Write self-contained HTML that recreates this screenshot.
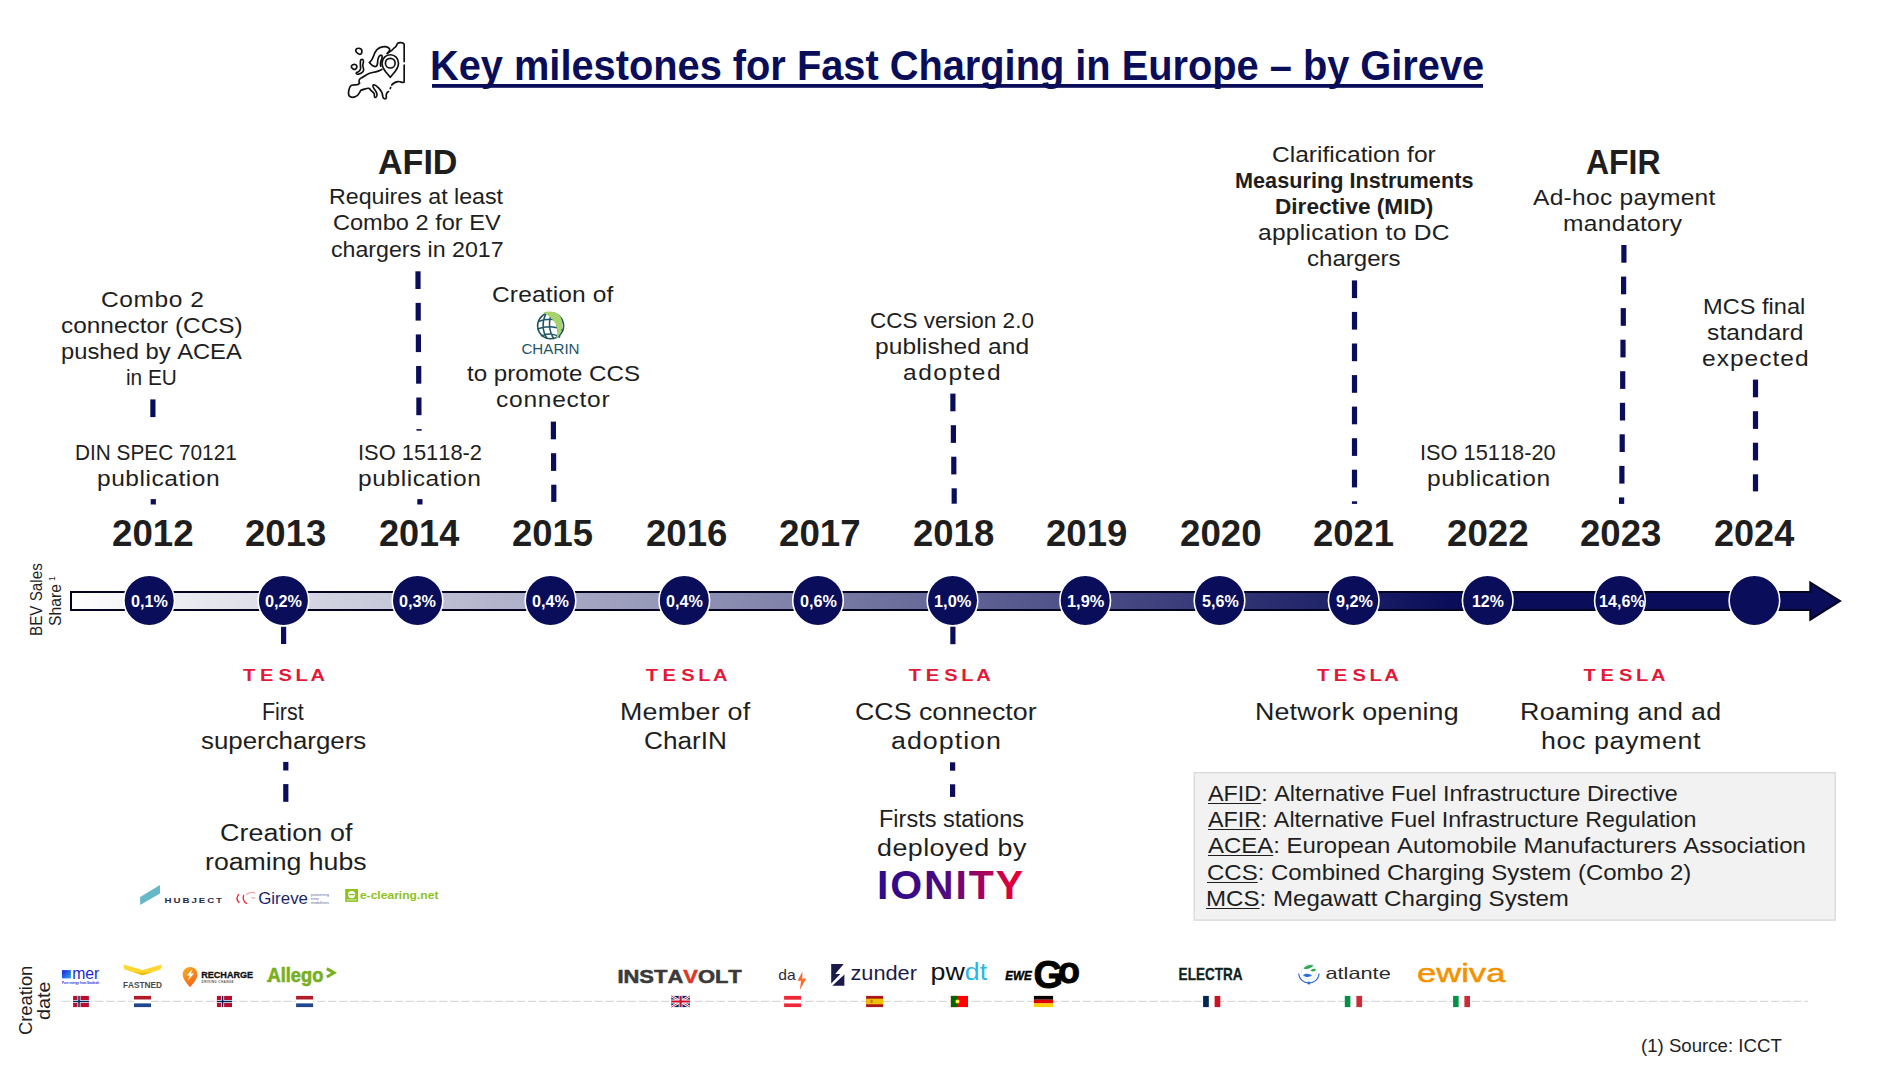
<!DOCTYPE html>
<html lang="en"><head><meta charset="utf-8"><title>Key milestones for Fast Charging in Europe – by Gireve</title>
<style>
html,body{margin:0;padding:0;background:#fff}
#p{position:relative;width:1901px;height:1065px;overflow:hidden;background:#fff;font-family:"Liberation Sans",sans-serif;font-kerning:none;color:#1e1e1e}
.t{position:absolute;white-space:nowrap;line-height:1;transform-origin:0 0}
.v{position:absolute;width:0;height:0;transform:rotate(-90deg);transform-origin:0 0}
#g{position:absolute;left:0;top:0}
u{text-decoration-thickness:1.3px;text-underline-offset:1.6px}
svg text{font-family:"Liberation Sans",sans-serif;font-kerning:none}
</style></head><body><div id="p">
<svg id="g" width="1901" height="1065" viewBox="0 0 1901 1065">
<defs>
<linearGradient id="bg" gradientUnits="userSpaceOnUse" x1="70" y1="0" x2="1450" y2="0"><stop offset="0" stop-color="#ffffff"/><stop offset="1" stop-color="#0a0e5a"/></linearGradient>
<linearGradient id="ion" gradientUnits="userSpaceOnUse" x1="879" y1="0" x2="1023" y2="0"><stop offset="0" stop-color="#2a0a8c"/><stop offset="0.45" stop-color="#4b0a82"/><stop offset="0.75" stop-color="#b0005a"/><stop offset="1" stop-color="#f0002a"/></linearGradient>
</defs>
<path d="M71,592.1H1810.3V582.6L1840.0,600.9L1810.3,619.6V610.0H71Z" fill="url(#bg)" stroke="#03041f" stroke-width="2" stroke-linejoin="miter"/>
<circle cx="149.2" cy="600.4" r="25.3" fill="#0a0e5a" stroke="#fff" stroke-width="1.6"/>
<circle cx="283.4" cy="600.4" r="25.3" fill="#0a0e5a" stroke="#fff" stroke-width="1.6"/>
<circle cx="417.5" cy="600.4" r="25.3" fill="#0a0e5a" stroke="#fff" stroke-width="1.6"/>
<circle cx="550.5" cy="600.4" r="25.3" fill="#0a0e5a" stroke="#fff" stroke-width="1.6"/>
<circle cx="684.3" cy="600.4" r="25.3" fill="#0a0e5a" stroke="#fff" stroke-width="1.6"/>
<circle cx="818.0" cy="600.4" r="25.3" fill="#0a0e5a" stroke="#fff" stroke-width="1.6"/>
<circle cx="952.5" cy="600.4" r="25.3" fill="#0a0e5a" stroke="#fff" stroke-width="1.6"/>
<circle cx="1085.2" cy="600.4" r="25.3" fill="#0a0e5a" stroke="#fff" stroke-width="1.6"/>
<circle cx="1219.5" cy="600.4" r="25.3" fill="#0a0e5a" stroke="#fff" stroke-width="1.6"/>
<circle cx="1353.7" cy="600.4" r="25.3" fill="#0a0e5a" stroke="#fff" stroke-width="1.6"/>
<circle cx="1487.7" cy="600.4" r="25.3" fill="#0a0e5a" stroke="#fff" stroke-width="1.6"/>
<circle cx="1619.9" cy="600.4" r="25.3" fill="#0a0e5a" stroke="#fff" stroke-width="1.6"/>
<circle cx="1754.4" cy="600.4" r="25.3" fill="#0a0e5a" stroke="#fff" stroke-width="1.6"/>
<rect x="150.3" y="399.4" width="5.2" height="17.7" fill="#0a0e5a"/>
<rect x="150.7" y="499.1" width="5.2" height="5.4" fill="#0a0e5a"/>
<rect x="415.4" y="271.3" width="5.2" height="17.7" fill="#0a0e5a"/>
<rect x="415.6" y="302.9" width="5.2" height="17.7" fill="#0a0e5a"/>
<rect x="415.8" y="334.4" width="5.2" height="17.7" fill="#0a0e5a"/>
<rect x="416.1" y="366.0" width="5.2" height="17.7" fill="#0a0e5a"/>
<rect x="416.3" y="397.5" width="5.2" height="17.7" fill="#0a0e5a"/>
<rect x="416.5" y="429.1" width="5.2" height="1.6" fill="#0a0e5a"/>
<rect x="417.3" y="499.1" width="5.2" height="5.4" fill="#0a0e5a"/>
<rect x="550.8" y="421.6" width="5.2" height="17.7" fill="#0a0e5a"/>
<rect x="551.0" y="453.2" width="5.2" height="17.7" fill="#0a0e5a"/>
<rect x="551.2" y="484.7" width="5.2" height="17.2" fill="#0a0e5a"/>
<rect x="950.3" y="393.6" width="5.2" height="17.7" fill="#0a0e5a"/>
<rect x="950.8" y="425.2" width="5.2" height="17.7" fill="#0a0e5a"/>
<rect x="951.2" y="456.7" width="5.2" height="17.7" fill="#0a0e5a"/>
<rect x="951.6" y="488.3" width="5.2" height="15.4" fill="#0a0e5a"/>
<rect x="1351.9" y="280.4" width="5.2" height="17.7" fill="#0a0e5a"/>
<rect x="1351.9" y="311.9" width="5.2" height="17.7" fill="#0a0e5a"/>
<rect x="1351.9" y="343.5" width="5.2" height="17.7" fill="#0a0e5a"/>
<rect x="1351.9" y="375.1" width="5.2" height="17.7" fill="#0a0e5a"/>
<rect x="1351.9" y="406.6" width="5.2" height="17.7" fill="#0a0e5a"/>
<rect x="1351.9" y="438.2" width="5.2" height="17.7" fill="#0a0e5a"/>
<rect x="1351.9" y="469.7" width="5.2" height="17.7" fill="#0a0e5a"/>
<rect x="1351.9" y="501.3" width="5.2" height="2.6" fill="#0a0e5a"/>
<rect x="1621.3" y="245.0" width="5.2" height="17.7" fill="#0a0e5a"/>
<rect x="1621.0" y="276.6" width="5.2" height="17.7" fill="#0a0e5a"/>
<rect x="1620.7" y="308.1" width="5.2" height="17.7" fill="#0a0e5a"/>
<rect x="1620.4" y="339.7" width="5.2" height="17.7" fill="#0a0e5a"/>
<rect x="1620.1" y="371.2" width="5.2" height="17.7" fill="#0a0e5a"/>
<rect x="1619.9" y="402.8" width="5.2" height="17.7" fill="#0a0e5a"/>
<rect x="1619.6" y="434.3" width="5.2" height="17.7" fill="#0a0e5a"/>
<rect x="1619.3" y="465.9" width="5.2" height="17.7" fill="#0a0e5a"/>
<rect x="1619.0" y="497.4" width="5.2" height="6.5" fill="#0a0e5a"/>
<rect x="1752.9" y="379.6" width="5.2" height="17.7" fill="#0a0e5a"/>
<rect x="1752.9" y="411.2" width="5.2" height="17.7" fill="#0a0e5a"/>
<rect x="1752.9" y="442.7" width="5.2" height="17.7" fill="#0a0e5a"/>
<rect x="1752.9" y="474.3" width="5.2" height="17.1" fill="#0a0e5a"/>
<rect x="281.0" y="626.8" width="5.2" height="17.2" fill="#0a0e5a"/>
<rect x="950.3" y="626.7" width="5.2" height="17.5" fill="#0a0e5a"/>
<rect x="283.2" y="761.9" width="5.2" height="8.6" fill="#0a0e5a"/>
<rect x="283.2" y="784.1" width="5.2" height="17.7" fill="#0a0e5a"/>
<rect x="950.0" y="762.3" width="5.2" height="8.4" fill="#0a0e5a"/>
<rect x="950.0" y="784.3" width="5.2" height="12.6" fill="#0a0e5a"/>
<rect x="1194.2" y="772.7" width="641" height="147.4" fill="#f2f2f2" stroke="#dcdcdc" stroke-width="1.5"/>
<line x1="61.7" y1="1001.4" x2="1808" y2="1001.4" stroke="#d9d9d9" stroke-width="1.3" stroke-dasharray="8.3 2.8"/>
<rect x="432" y="84" width="1051" height="3.8" fill="#0a0e5a"/>
<!-- Europe map icon -->
<g transform="translate(320,20) scale(0.10521)" fill="none" stroke="#111" stroke-width="16" stroke-linecap="round" stroke-linejoin="round">
<path d="M340,285C345,262 392,262 398,290C402,322 384,332 368,322C350,312 336,306 340,285Z"/>
<path d="M298,440C305,418 346,414 351,440C353,466 330,476 315,466C302,458 295,450 298,440Z"/>
<path d="M386,380C396,370 416,372 413,396C409,420 401,432 411,452C426,482 402,510 366,515C350,517 340,510 346,500C366,494 386,480 386,456C386,430 380,420 386,380Z"/>
<path d="M470,405C490,390 500,372 510,340C522,300 542,264 592,255C622,250 652,256 662,276C667,292 652,300 640,318"/>
<path d="M470,405C485,425 505,445 528,442C548,438 546,420 548,396C550,368 556,346 574,336C592,330 596,350 586,372C576,396 570,420 578,440"/>
<path d="M640,318C660,300 690,290 702,268C716,258 728,250 735,225C745,212 790,212 800,230L800,395"/>
<path d="M800,428L800,590C782,604 770,580 740,585C712,590 692,600 682,618"/>
<path d="M672,640L668,652"/>
<path d="M652,680C632,690 626,712 631,736C626,756 601,751 598,731C595,700 581,670 561,650C546,635 526,612 508,616C494,626 510,650 526,671C541,691 551,722 531,736C516,741 516,720 516,701C501,681 481,671 470,651C455,640 421,660 391,666C371,690 371,721 331,731C301,741 268,731 271,691C274,661 279,630 301,620C331,610 361,626 376,601C366,581 371,561 391,551C411,546 431,521 471,506C511,496 556,490 588,470"/>
<path d="M668,545C640,505 590,470 590,410C590,362 626,330 668,330C712,330 746,362 746,410C746,470 696,505 668,545Z"/>
<circle cx="668" cy="410" r="46"/>
</g>
<!-- CharIN -->
<g>
<circle cx="550.6" cy="325.8" r="13" fill="#fff" stroke="#1f5566" stroke-width="1.6"/>
<path d="M538.5,321.5C546,318.5 556,318.5 562.5,322M537.8,329C546,325.5 556,326 563,330.5M541,336C547,333 555,333.5 560,337.5M546,313.5C542,321 542,331 547,338.5M552,312.8C548,321 549,332 554,338.8M558,314.5C556,322 557,331 560,336.5" fill="none" stroke="#1f5566" stroke-width="1.5"/>
<path d="M543,312.5C550,310.5 557,312 560,316C564,323 563,332 556,339.5C559,331 558,320 543,312.5Z" fill="#a6d46a"/>
<text x="521.4" y="354.3" font-size="14.6" fill="#1f5566" textLength="58.2" lengthAdjust="spacingAndGlyphs">CHARIN</text>
</g>
<!-- TESLA wordmarks -->
<g fill="#e31937" font-size="16.2" font-weight="700">
<text transform="translate(243.5,681.0) scale(1.24,1)" x="-0.34 13.33 28.30 42.04 54.03">TESLA</text>
<text transform="translate(646.1,681.0) scale(1.24,1)" x="-0.34 13.33 28.30 42.04 54.03">TESLA</text>
<text transform="translate(909.2,681.0) scale(1.24,1)" x="-0.34 13.33 28.30 42.04 54.03">TESLA</text>
<text transform="translate(1317.3,681.0) scale(1.24,1)" x="-0.34 13.33 28.30 42.04 54.03">TESLA</text>
<text transform="translate(1584.0,681.0) scale(1.24,1)" x="-0.34 13.33 28.30 42.04 54.03">TESLA</text>
</g>
<!-- Hubject -->
<path d="M140.1,896.9L160,885.1V893.5L140.1,905Z" fill="#66b8c8"/>
<text x="164.6" y="902.8" font-size="8" font-weight="700" letter-spacing="1.6" fill="#2a2a45" textLength="59.4" lengthAdjust="spacingAndGlyphs">HUBJECT</text>
<!-- Gireve -->
<g fill="none" stroke-linecap="round">
<path d="M238.6,894.6C236.6,897 236.8,900.2 239,902.4" stroke="#e8333a" stroke-width="1.4"/>
<path d="M243.6,895.5C242.6,899 244,902 246.6,903.4" stroke="#e8333a" stroke-width="1.4"/>
<path d="M246.5,894.6C248.5,892.6 251.5,892 254.6,892.8" stroke="#f6a9ac" stroke-width="1.4"/>
<path d="M251.6,897.8H255" stroke="#f6a9ac" stroke-width="1.2"/>
</g>
<text x="258.2" y="904.1" font-size="16" fill="#1a1f6e" textLength="49.8" lengthAdjust="spacingAndGlyphs">Gireve</text>
<g font-size="3.6" fill="#6a6fa8"><text x="311" y="896.3" textLength="18" lengthAdjust="spacingAndGlyphs">powering</text><text x="311" y="900.1" textLength="8" lengthAdjust="spacingAndGlyphs">new</text><text x="311" y="903.9" textLength="18" lengthAdjust="spacingAndGlyphs">mobilities</text></g>
<!-- e-clearing.net -->
<rect x="345.2" y="889" width="12.9" height="12.9" fill="#8dc21f"/>
<circle cx="351.6" cy="894.6" r="3.6" fill="#fff"/><path d="M348.6,894.6H354.6" stroke="#8dc21f" stroke-width="1.3"/><rect x="346.5" y="899.2" width="10.3" height="1.4" fill="#c6e08f"/>
<text x="359.9" y="898.6" font-size="11.4" font-weight="700" fill="#8dc21f" textLength="78.6" lengthAdjust="spacingAndGlyphs">e-clearing.net</text>
<!-- IONITY -->
<text x="877" y="899.0" font-size="41" font-weight="700" fill="url(#ion)" textLength="146" lengthAdjust="spacing">IONITY</text>
<!-- mer -->
<defs><linearGradient id="merg" x1="0" y1="0" x2="1" y2="1"><stop offset="0" stop-color="#1a22d6"/><stop offset="1" stop-color="#2ea8ee"/></linearGradient>
<linearGradient id="rchg" x1="0" y1="0" x2="0.6" y2="1"><stop offset="0" stop-color="#f9b21c"/><stop offset="1" stop-color="#f2661b"/></linearGradient></defs>
<rect x="62" y="970.1" width="8.9" height="8.3" fill="url(#merg)"/>
<text x="72.2" y="978.6" font-size="16.5" fill="#1e28d2" textLength="27.2" lengthAdjust="spacingAndGlyphs">mer</text>
<text x="62" y="983.9" font-size="3.5" font-weight="700" fill="#1e28d2" textLength="37" lengthAdjust="spacingAndGlyphs">Pure energy from Statkraft</text>
<!-- Fastned -->
<path d="M123.4,964.6L142.7,970.1L161.7,964.6L160.6,969.4L142.7,975.3L124.5,969.4Z" fill="#ffd530"/>
<path d="M133,972.1L142.7,975.3L152.4,972.1L142.7,973Z" fill="#f0b90a"/>
<text x="123" y="988.1" font-size="9" font-weight="700" fill="#4a4a4a" textLength="39" lengthAdjust="spacingAndGlyphs">FASTNED</text>
<!-- Recharge -->
<path d="M190,987.2C186,982.5 182.7,978.5 182.7,974.4C182.7,970.2 186,967 190,967C194.2,967 197.4,970.2 197.4,974.4C197.4,978.5 194,982.5 190,987.2Z" fill="url(#rchg)"/>
<path d="M192.4,969.3L186.6,975.6H189.8L188,980.6L194,973.6H190.8Z" fill="#fff"/>
<text x="201.2" y="978.2" font-size="9.1" font-weight="700" fill="#111" stroke="#111" stroke-width="0.3" textLength="52" lengthAdjust="spacingAndGlyphs">RECHARGE</text>
<text x="201.6" y="982.7" font-size="3.1" font-weight="700" fill="#555" textLength="32" lengthAdjust="spacing">DRIVING CHANGE</text>
<!-- Allego -->
<text x="267.5" y="981.7" font-size="19.5" font-weight="700" fill="#78af1e" stroke="#78af1e" stroke-width="0.6" textLength="55.8" lengthAdjust="spacingAndGlyphs">Allego</text>
<path d="M326.8,968.6L334,972.8L326.8,977" fill="none" stroke="#78af1e" stroke-width="3"/>
<rect x="266.8" y="979.9" width="4.5" height="1.8" fill="#78af1e"/>
<!-- Instavolt -->
<text x="617.4" y="983.2" font-size="17.6" font-weight="700" fill="#3a3a3a" stroke="#3a3a3a" stroke-width="0.5" textLength="124.4" lengthAdjust="spacingAndGlyphs">INSTA<tspan fill="#d93a2b" stroke="#d93a2b">V</tspan>OLT</text>
<!-- da -->
<text x="778.2" y="979.9" font-size="14.5" fill="#2b2b3b" textLength="17.4" lengthAdjust="spacingAndGlyphs">da</text>
<path d="M802.5,971.6L797.4,980.8H801.1L799.8,990L806.2,978.6H802.2Z" fill="#ff6b2b"/>
<!-- zunder -->
<path d="M831.2,964H843.7L835.2,973.9H840.4L831.2,983.4Z" fill="#1b1b4b"/>
<path d="M844.4,974.4V985.8H832.3Z" fill="#1b1b4b"/>
<text x="850.4" y="979.9" font-size="20" fill="#1b1b4b" textLength="66.6" lengthAdjust="spacingAndGlyphs">zunder</text>
<!-- pwdt -->
<text x="930.6" y="979.8" font-size="23.5" fill="#111" textLength="56.6" lengthAdjust="spacingAndGlyphs">pw<tspan fill="#29b6e8">dt</tspan></text>
<!-- EWE Go -->
<text x="1005.2" y="979.5" font-size="12.3" font-weight="700" font-style="italic" fill="#000" stroke="#000" stroke-width="0.4" textLength="26.6" lengthAdjust="spacingAndGlyphs">EWE</text>
<text font-weight="700" fill="#000" stroke="#000" stroke-width="0.9"><tspan x="1033.6" y="988.2" font-size="38">G</tspan><tspan x="1057.9" y="983.4" font-size="36">o</tspan></text>
<!-- Electra -->
<text x="1178.6" y="979.9" font-size="16.2" font-weight="700" fill="#10241f" stroke="#10241f" stroke-width="0.3" textLength="64" lengthAdjust="spacingAndGlyphs">ELECTRA</text>
<!-- atlante -->
<circle cx="1308.9" cy="971.8" r="7.6" fill="#fff" stroke="#e3eef5" stroke-width="1"/>
<path d="M1303.5,968.5C1305.5,965.5 1310,964 1313.5,965.6C1311,968.5 1307,969.8 1303.5,968.5Z" fill="#2fa84f"/>
<path d="M1303,975.2C1305,977.2 1309,977.6 1312,975.8C1310,973.4 1306,973 1303,975.2Z" fill="#2b6fd6"/>
<path d="M1310.5,970.5C1312,968.6 1314.5,968.2 1316,969.4C1315,971.6 1312.6,972.2 1310.5,970.5Z" fill="#2fa84f"/>
<path d="M1298.6,973.5C1299.2,979.3 1303.5,983 1308.9,983C1314.3,983 1318.6,979.3 1319.2,973.5" fill="none" stroke="#2b6fd6" stroke-width="1.2"/>
<circle cx="1308.9" cy="983.1" r="1.5" fill="#2b6fd6"/>
<text x="1325.4" y="979.3" font-size="16.5" fill="#2b2b2b" textLength="65.4" lengthAdjust="spacingAndGlyphs">atlante</text>
<!-- ewiva -->
<text x="1417" y="982.2" font-size="26.5" fill="#f39200" stroke="#f39200" stroke-width="0.5" textLength="88.4" lengthAdjust="spacingAndGlyphs">ewiva</text>
<!-- flags -->
<g>
<rect x="73.1" y="995.9" width="15.8" height="11.2" fill="#ba0c2f"/><path d="M73.1,1001.5H88.9M79,995.9V1007.1" stroke="#fff" stroke-width="3"/><path d="M73.1,1001.5H88.9M79,995.9V1007.1" stroke="#00205b" stroke-width="1.5"/>
<rect x="216.9" y="995.9" width="15.1" height="11.2" fill="#ba0c2f"/><path d="M216.9,1001.5H232M222.6,995.9V1007.1" stroke="#fff" stroke-width="3"/><path d="M216.9,1001.5H232M222.6,995.9V1007.1" stroke="#00205b" stroke-width="1.5"/>
<rect x="134" y="995.9" width="17" height="3.8" fill="#ae1c28"/><rect x="134" y="999.7" width="17" height="3.7" fill="#fff"/><rect x="134" y="1003.4" width="17" height="3.7" fill="#21468b"/>
<rect x="296.1" y="995.9" width="17" height="3.8" fill="#ae1c28"/><rect x="296.1" y="999.7" width="17" height="3.7" fill="#fff"/><rect x="296.1" y="1003.4" width="17" height="3.7" fill="#21468b"/>
<!-- UK -->
<g transform="translate(671.3,995.9)"><rect width="18.6" height="11.2" fill="#012169"/><path d="M0,0L18.6,11.2M18.6,0L0,11.2" stroke="#fff" stroke-width="2.4"/><path d="M0,0L18.6,11.2M18.6,0L0,11.2" stroke="#c8102e" stroke-width="0.9"/><path d="M9.3,0V11.2M0,5.6H18.6" stroke="#fff" stroke-width="3.8"/><path d="M9.3,0V11.2M0,5.6H18.6" stroke="#c8102e" stroke-width="2.2"/></g>
<!-- Austria -->
<rect x="784.1" y="995.9" width="17" height="11.2" fill="#ed2939"/><rect x="784.1" y="999.7" width="17" height="3.7" fill="#fff"/>
<!-- Spain -->
<rect x="866.1" y="995.9" width="17" height="11.2" fill="#aa151b"/><rect x="866.1" y="998.7" width="17" height="5.6" fill="#f1bf00"/><rect x="870.6" y="1000.2" width="2" height="2.6" fill="#ad6a2b"/>
<!-- Portugal -->
<rect x="950.9" y="995.9" width="17.1" height="11.2" fill="#ff0000"/><rect x="950.9" y="995.9" width="6.6" height="11.2" fill="#006600"/><circle cx="957.5" cy="1001.5" r="2.1" fill="#ffe000"/><circle cx="957.5" cy="1001.5" r="1.1" fill="#fff"/>
<!-- Germany -->
<rect x="1033.9" y="995.9" width="19.2" height="3.8" fill="#000"/><rect x="1033.9" y="999.7" width="19.2" height="3.7" fill="#dd0000"/><rect x="1033.9" y="1003.4" width="19.2" height="3.7" fill="#ffce00"/>
<!-- France -->
<rect x="1203.1" y="995.9" width="5.8" height="11.2" fill="#002654"/><rect x="1208.9" y="995.9" width="5.7" height="11.2" fill="#fff"/><rect x="1214.6" y="995.9" width="5.7" height="11.2" fill="#ce1126"/>
<!-- Italy -->
<rect x="1344.8" y="995.9" width="5.8" height="11.2" fill="#009246"/><rect x="1350.6" y="995.9" width="5.8" height="11.2" fill="#fff"/><rect x="1356.4" y="995.9" width="5.7" height="11.2" fill="#ce2b37"/>
<rect x="1453.1" y="995.9" width="5.7" height="11.2" fill="#009246"/><rect x="1458.8" y="995.9" width="5.6" height="11.2" fill="#fff"/><rect x="1464.4" y="995.9" width="5.6" height="11.2" fill="#ce2b37"/>
</g>

</svg>
<div class="t" style="left:430.14px;top:45px;font-size:42.00px;letter-spacing:0.000px;transform:scaleX(0.9469);font-weight:700;color:#0a0e5a">Key milestones for Fast Charging in Europe – by Gireve</div>
<div class="t" style="left:100.55px;top:290px;font-size:21.33px;letter-spacing:0.485px;transform:scaleX(1.1500)">Combo 2</div>
<div class="t" style="left:60.86px;top:316px;font-size:21.33px;letter-spacing:0.000px;transform:scaleX(1.1442)">connector (CCS)</div>
<div class="t" style="left:60.97px;top:342px;font-size:21.33px;letter-spacing:0.000px;transform:scaleX(1.1129)">pushed by ACEA</div>
<div class="t" style="left:125.91px;top:368px;font-size:21.33px;letter-spacing:0.000px;transform:scaleX(0.9758)">in EU</div>
<div class="t" style="left:75.29px;top:443px;font-size:21.33px;letter-spacing:0.000px;transform:scaleX(0.9749)">DIN SPEC 70121</div>
<div class="t" style="left:96.62px;top:469px;font-size:21.33px;letter-spacing:0.469px;transform:scaleX(1.1500)">publication</div>
<div class="t" style="left:329.30px;top:187px;font-size:21.33px;letter-spacing:0.000px;transform:scaleX(1.0876)">Requires at least</div>
<div class="t" style="left:332.50px;top:213px;font-size:21.33px;letter-spacing:0.000px;transform:scaleX(1.1045)">Combo 2 for EV</div>
<div class="t" style="left:330.62px;top:240px;font-size:21.33px;letter-spacing:0.000px;transform:scaleX(1.0866)">chargers in 2017</div>
<div class="t" style="left:357.68px;top:443px;font-size:21.33px;letter-spacing:0.000px;transform:scaleX(1.0254)">ISO 15118-2</div>
<div class="t" style="left:358.12px;top:469px;font-size:21.33px;letter-spacing:0.495px;transform:scaleX(1.1500)">publication</div>
<div class="t" style="left:491.95px;top:285px;font-size:21.33px;letter-spacing:0.124px;transform:scaleX(1.1500)">Creation of</div>
<div class="t" style="left:466.93px;top:364px;font-size:21.33px;letter-spacing:0.000px;transform:scaleX(1.1318)">to promote CCS</div>
<div class="t" style="left:496.06px;top:390px;font-size:21.33px;letter-spacing:0.644px;transform:scaleX(1.1500)">connector</div>
<div class="t" style="left:870.16px;top:311px;font-size:21.33px;letter-spacing:0.000px;transform:scaleX(1.0555)">CCS version 2.0</div>
<div class="t" style="left:874.72px;top:337px;font-size:21.33px;letter-spacing:0.109px;transform:scaleX(1.1500)">published and</div>
<div class="t" style="left:903.26px;top:363px;font-size:21.33px;letter-spacing:1.298px;transform:scaleX(1.1500)">adopted</div>
<div class="t" style="left:1272.35px;top:145px;font-size:21.33px;letter-spacing:0.009px;transform:scaleX(1.1500)">Clarification for</div>
<div class="t" style="left:1258.26px;top:223px;font-size:21.33px;letter-spacing:0.254px;transform:scaleX(1.1500)">application to DC</div>
<div class="t" style="left:1307.48px;top:249px;font-size:21.33px;letter-spacing:0.000px;transform:scaleX(1.1278)">chargers</div>
<div class="t" style="left:1532.95px;top:188px;font-size:21.33px;letter-spacing:0.248px;transform:scaleX(1.1500)">Ad-hoc payment</div>
<div class="t" style="left:1563.37px;top:214px;font-size:21.33px;letter-spacing:0.335px;transform:scaleX(1.1500)">mandatory</div>
<div class="t" style="left:1420.29px;top:443px;font-size:21.33px;letter-spacing:0.000px;transform:scaleX(1.0215)">ISO 15118-20</div>
<div class="t" style="left:1427.02px;top:469px;font-size:21.33px;letter-spacing:0.504px;transform:scaleX(1.1500)">publication</div>
<div class="t" style="left:1703.26px;top:297px;font-size:21.33px;letter-spacing:-0.000px;transform:scaleX(1.1067)">MCS final</div>
<div class="t" style="left:1707.02px;top:323px;font-size:21.33px;letter-spacing:0.112px;transform:scaleX(1.1500)">standard</div>
<div class="t" style="left:1701.56px;top:349px;font-size:21.33px;letter-spacing:0.878px;transform:scaleX(1.1500)">expected</div>
<div class="t" style="left:1234.55px;top:171px;font-size:21.33px;letter-spacing:0.000px;transform:scaleX(1.0161);font-weight:700">Measuring Instruments</div>
<div class="t" style="left:1275.29px;top:197px;font-size:21.33px;letter-spacing:0.000px;transform:scaleX(1.0603);font-weight:700">Directive (MID)</div>
<div class="t" style="left:377.85px;top:144px;font-size:35.00px;letter-spacing:0.000px;transform:scaleX(0.9733);font-weight:700">AFID</div>
<div class="t" style="left:1586.41px;top:144px;font-size:35.00px;letter-spacing:0.000px;transform:scaleX(0.9117);font-weight:700">AFIR</div>
<div class="t" style="left:111.53px;top:516px;font-size:36.00px;letter-spacing:0.000px;transform:scaleX(1.0181);font-weight:700">2012</div>
<div class="t" style="left:245.03px;top:516px;font-size:36.00px;letter-spacing:0.000px;transform:scaleX(1.0163);font-weight:700">2013</div>
<div class="t" style="left:378.55px;top:516px;font-size:36.00px;letter-spacing:0.000px;transform:scaleX(1.0020);font-weight:700">2014</div>
<div class="t" style="left:512.04px;top:516px;font-size:36.00px;letter-spacing:0.000px;transform:scaleX(1.0124);font-weight:700">2015</div>
<div class="t" style="left:645.53px;top:516px;font-size:36.00px;letter-spacing:0.000px;transform:scaleX(1.0163);font-weight:700">2016</div>
<div class="t" style="left:779.03px;top:516px;font-size:36.00px;letter-spacing:0.000px;transform:scaleX(1.0200);font-weight:700">2017</div>
<div class="t" style="left:912.53px;top:516px;font-size:36.00px;letter-spacing:0.000px;transform:scaleX(1.0138);font-weight:700">2018</div>
<div class="t" style="left:1046.03px;top:516px;font-size:36.00px;letter-spacing:0.000px;transform:scaleX(1.0167);font-weight:700">2019</div>
<div class="t" style="left:1179.53px;top:516px;font-size:36.00px;letter-spacing:0.000px;transform:scaleX(1.0186);font-weight:700">2020</div>
<div class="t" style="left:1313.04px;top:516px;font-size:36.00px;letter-spacing:0.000px;transform:scaleX(1.0124);font-weight:700">2021</div>
<div class="t" style="left:1446.53px;top:516px;font-size:36.00px;letter-spacing:-0.000px;transform:scaleX(1.0181);font-weight:700">2022</div>
<div class="t" style="left:1580.03px;top:516px;font-size:36.00px;letter-spacing:0.000px;transform:scaleX(1.0163);font-weight:700">2023</div>
<div class="t" style="left:1713.55px;top:516px;font-size:36.00px;letter-spacing:0.000px;transform:scaleX(1.0020);font-weight:700">2024</div>
<div class="t" style="left:131.06px;top:594px;font-size:16.00px;letter-spacing:0.000px;transform:scaleX(1.0109);font-weight:700;color:#fff">0,1%</div>
<div class="t" style="left:265.26px;top:594px;font-size:16.00px;letter-spacing:0.000px;transform:scaleX(1.0109);font-weight:700;color:#fff">0,2%</div>
<div class="t" style="left:399.36px;top:594px;font-size:16.00px;letter-spacing:0.000px;transform:scaleX(1.0109);font-weight:700;color:#fff">0,3%</div>
<div class="t" style="left:532.36px;top:594px;font-size:16.00px;letter-spacing:0.000px;transform:scaleX(1.0109);font-weight:700;color:#fff">0,4%</div>
<div class="t" style="left:666.16px;top:594px;font-size:16.00px;letter-spacing:0.000px;transform:scaleX(1.0109);font-weight:700;color:#fff">0,4%</div>
<div class="t" style="left:799.91px;top:594px;font-size:16.00px;letter-spacing:0.000px;transform:scaleX(1.0109);font-weight:700;color:#fff">0,6%</div>
<div class="t" style="left:933.92px;top:594px;font-size:16.00px;letter-spacing:0.000px;transform:scaleX(1.0217);font-weight:700;color:#fff">1,0%</div>
<div class="t" style="left:1066.67px;top:594px;font-size:16.00px;letter-spacing:0.000px;transform:scaleX(1.0217);font-weight:700;color:#fff">1,9%</div>
<div class="t" style="left:1201.50px;top:594px;font-size:16.00px;letter-spacing:0.000px;transform:scaleX(1.0069);font-weight:700;color:#fff">5,6%</div>
<div class="t" style="left:1335.64px;top:594px;font-size:16.00px;letter-spacing:0.000px;transform:scaleX(1.0087);font-weight:700;color:#fff">9,2%</div>
<div class="t" style="left:1471.85px;top:594px;font-size:16.00px;letter-spacing:0.000px;transform:scaleX(0.9937);font-weight:700;color:#fff">12%</div>
<div class="t" style="left:1599.13px;top:594px;font-size:16.00px;letter-spacing:0.000px;transform:scaleX(1.0083);font-weight:700;color:#fff">14,6%</div>
<div class="t" style="left:262.04px;top:701px;font-size:23.33px;letter-spacing:0.000px;transform:scaleX(0.9176)">First</div>
<div class="t" style="left:200.88px;top:730px;font-size:23.33px;letter-spacing:0.000px;transform:scaleX(1.1081)">superchargers</div>
<div class="t" style="left:219.64px;top:822px;font-size:23.33px;letter-spacing:0.103px;transform:scaleX(1.1500)">Creation of</div>
<div class="t" style="left:204.53px;top:851px;font-size:23.33px;letter-spacing:0.000px;transform:scaleX(1.1434)">roaming hubs</div>
<div class="t" style="left:620.00px;top:701px;font-size:23.33px;letter-spacing:0.221px;transform:scaleX(1.1500)">Member of</div>
<div class="t" style="left:644.17px;top:730px;font-size:23.33px;letter-spacing:0.000px;transform:scaleX(1.1227)">CharIN</div>
<div class="t" style="left:854.94px;top:701px;font-size:23.33px;letter-spacing:0.000px;transform:scaleX(1.1480)">CCS connector</div>
<div class="t" style="left:891.26px;top:730px;font-size:23.33px;letter-spacing:0.874px;transform:scaleX(1.1500)">adoption</div>
<div class="t" style="left:878.87px;top:808px;font-size:23.33px;letter-spacing:0.000px;transform:scaleX(1.0075)">Firsts stations</div>
<div class="t" style="left:876.67px;top:837px;font-size:23.33px;letter-spacing:0.407px;transform:scaleX(1.1500)">deployed by</div>
<div class="t" style="left:1254.80px;top:701px;font-size:23.33px;letter-spacing:0.142px;transform:scaleX(1.1500)">Network opening</div>
<div class="t" style="left:1520.10px;top:701px;font-size:23.33px;letter-spacing:0.284px;transform:scaleX(1.1500)">Roaming and ad</div>
<div class="t" style="left:1540.54px;top:730px;font-size:23.33px;letter-spacing:0.499px;transform:scaleX(1.1500)">hoc payment</div>
<div class="t" style="left:1208.35px;top:784px;font-size:21.33px;letter-spacing:0.000px;transform:scaleX(1.0950)"><u>AFID</u>: Alternative Fuel Infrastructure Directive</div>
<div class="t" style="left:1208.35px;top:810px;font-size:21.33px;letter-spacing:-0.000px;transform:scaleX(1.0898)"><u>AFIR</u>: Alternative Fuel Infrastructure Regulation</div>
<div class="t" style="left:1208.35px;top:836px;font-size:21.33px;letter-spacing:0.000px;transform:scaleX(1.1230)"><u>ACEA</u>: European Automobile Manufacturers Association</div>
<div class="t" style="left:1207.18px;top:863px;font-size:21.33px;letter-spacing:0.000px;transform:scaleX(1.1255)"><u>CCS</u>: Combined Charging System (Combo 2)</div>
<div class="t" style="left:1206.42px;top:889px;font-size:21.33px;letter-spacing:0.000px;transform:scaleX(1.1298)"><u>MCS</u>: Megawatt Charging System</div>
<div class="t" style="left:1641.24px;top:1037px;font-size:18.67px;letter-spacing:0.000px;transform:scaleX(0.9985)">(1) Source: ICCT</div>
<div class="v" style="left:42.00px;top:634.90px"><div class="t" style="left:-1.25px;top:-13px;font-size:16.60px;letter-spacing:0.000px;transform:scaleX(0.9174)">BEV Sales</div></div>
<div class="v" style="left:61.10px;top:624.70px"><div class="t" style="left:-0.71px;top:-13px;font-size:16.60px;letter-spacing:0.000px;transform:scaleX(0.9462)">Share</div></div>
<div class="v" style="left:55.20px;top:580.30px"><div class="t" style="left:-0.65px;top:-8px;font-size:9.50px;letter-spacing:0.000px;transform:scaleX(0.9033)">1</div></div>
<div class="v" style="left:31.70px;top:1034.20px"><div class="t" style="left:-0.93px;top:-15px;font-size:18.67px;letter-spacing:0.000px;transform:scaleX(0.9823)">Creation</div></div>
<div class="v" style="left:50.10px;top:1019.40px"><div class="t" style="left:-0.83px;top:-15px;font-size:18.67px;letter-spacing:0.000px;transform:scaleX(1.0598)">date</div></div>
</div></body></html>
